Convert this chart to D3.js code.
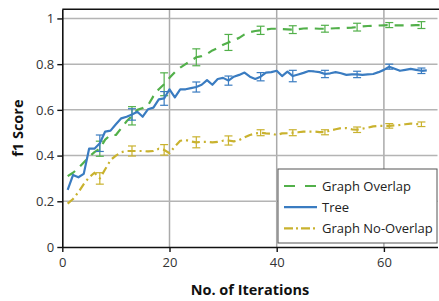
<!DOCTYPE html>
<html><head><meta charset="utf-8">
<script src="https://cdn.jsdelivr.net/npm/d3@7"></script>
<style>body{margin:0;background:#fff}svg{display:block;font-family:"Open Sans",sans-serif}</style>
</head><body><svg id="c" width="439" height="301"></svg>
<script>
const xTicks = [0, 20, 40, 60];
const yTicks = [0, 0.2, 0.4, 0.6, 0.8, 1];
const seriesNames = ["Graph Overlap", "Tree", "Graph No-Overlap"];
const treeX = d3.range(1, 69);
const treeY = [0.25,0.315,0.305,0.32,0.43,0.43,0.454,0.505,0.509,0.537,0.563,0.57,0.58,0.592,0.57,0.603,0.61,0.646,0.65,0.69,0.655,0.69,0.69,0.695,0.70,0.71,0.73,0.71,0.735,0.74,0.728,0.745,0.753,0.763,0.745,0.735,0.745,0.763,0.765,0.771,0.748,0.767,0.748,0.755,0.762,0.77,0.768,0.765,0.757,0.76,0.765,0.76,0.753,0.755,0.755,0.753,0.755,0.757,0.765,0.775,0.789,0.78,0.771,0.775,0.779,0.775,0.771,0.773];
const overlapX = d3.range(1, 68);
const overlapY = [0.31,0.325,0.345,0.37,0.395,0.415,0.43,0.47,0.49,0.49,0.52,0.55,0.574,0.60,0.608,0.62,0.66,0.69,0.712,0.74,0.765,0.785,0.80,0.815,0.83,0.835,0.845,0.86,0.87,0.885,0.895,0.905,0.915,0.93,0.94,0.945,0.948,0.952,0.955,0.955,0.953,0.952,0.951,0.953,0.956,0.957,0.956,0.955,0.955,0.956,0.957,0.958,0.959,0.96,0.962,0.965,0.967,0.968,0.969,0.97,0.971,0.97,0.97,0.97,0.97,0.971,0.971];
const noOverlapX = d3.range(1, 68);
const noOverlapY = [0.19,0.21,0.24,0.275,0.305,0.325,0.30,0.34,0.38,0.40,0.415,0.42,0.42,0.42,0.42,0.418,0.42,0.43,0.425,0.41,0.44,0.465,0.468,0.462,0.458,0.46,0.46,0.458,0.46,0.465,0.466,0.462,0.468,0.48,0.49,0.497,0.50,0.497,0.496,0.49,0.497,0.498,0.5,0.502,0.505,0.505,0.505,0.503,0.502,0.51,0.515,0.52,0.52,0.515,0.513,0.518,0.522,0.528,0.53,0.53,0.53,0.532,0.534,0.537,0.54,0.538,0.537];
const errX = [7,13,19,25,31,37,43,49,55,61,67];
const overlapErr = [0.033,0.04,0.05,0.037,0.035,0.018,0.017,0.015,0.017,0.011,0.015];
const treeErr = [0.036,0.025,0.03,0.022,0.02,0.018,0.025,0.016,0.014,0.011,0.012];
const noOverlapErr = [0.025,0.022,0.023,0.024,0.02,0.013,0.013,0.011,0.012,0.01,0.01];

const svg = d3.select("#c");
const m = {l: 62.3, r: 437.5, t: 9.3, b: 247};
const x = d3.scaleLinear().domain([0, 70]).range([m.l, m.r]);
const y = d3.scaleLinear().domain([0, 1.04]).range([m.b, m.t]);

// grid
const g = svg.append("g");
g.selectAll(".vg").data(xTicks.slice(1)).join("line")
  .attr("x1", d => x(d)).attr("x2", d => x(d)).attr("y1", m.t).attr("y2", m.b)
  .attr("stroke", "#aaa").attr("stroke-width", 1.5);
g.selectAll(".hg").data(yTicks.slice(1)).join("line")
  .attr("x1", m.l).attr("x2", m.r).attr("y1", d => y(d)).attr("y2", d => y(d))
  .attr("stroke", "#b4b4b4").attr("stroke-width", 1.5);

const series = [
  {name: seriesNames[0], xs: overlapX, ys: overlapY, err: overlapErr, color: "#52b04a", dash: "9,7"},
  {name: seriesNames[1], xs: treeX, ys: treeY, err: treeErr, color: "#3a7cc1", dash: null},
  {name: seriesNames[2], xs: noOverlapX, ys: noOverlapY, err: noOverlapErr, color: "#c9b22e", dash: "8,4,2,4"}
];
const line = d3.line().x(d => x(d[0])).y(d => y(d[1]));
const drawOrder = [2, 0, 1];
drawOrder.forEach(i => {
  const s = series[i];
  const pts = s.xs.map((v, k) => [v, s.ys[k]]);
  const p = svg.append("path").datum(pts).attr("d", line)
    .attr("fill", "none").attr("stroke", s.color).attr("stroke-width", 2.2)
    .attr("stroke-linejoin", "round");
  if (s.dash) p.attr("stroke-dasharray", s.dash);
  const eg = svg.append("g").attr("stroke", s.color).attr("stroke-width", 1.2).attr("fill", "none");
  errX.forEach((ex, k) => {
    const mean = s.ys[s.xs.indexOf(ex)];
    const e = s.err[k];
    eg.append("line").attr("x1", x(ex)).attr("x2", x(ex)).attr("y1", y(mean - e)).attr("y2", y(mean + e));
    eg.append("line").attr("x1", x(ex) - 4).attr("x2", x(ex) + 4).attr("y1", y(mean - e)).attr("y2", y(mean - e));
    eg.append("line").attr("x1", x(ex) - 4).attr("x2", x(ex) + 4).attr("y1", y(mean + e)).attr("y2", y(mean + e));
  });
});

// axes
const xa = svg.append("g").attr("transform", `translate(0,${m.b})`)
  .call(d3.axisBottom(x).tickValues(xTicks).tickSize(5).tickPadding(6).tickSizeOuter(0));
const ya = svg.append("g").attr("transform", `translate(${m.l},0)`)
  .call(d3.axisLeft(y).tickValues(yTicks).tickFormat(d3.format("~g")).tickSize(5).tickPadding(3).tickSizeOuter(0));
[xa, ya].forEach(a => {
  a.selectAll("path.domain").attr("stroke", "#111").attr("stroke-width", 1.6);
  a.selectAll(".tick line").attr("stroke", "#111").attr("stroke-width", 1.4);
  a.selectAll("text").attr("font-size", 13).attr("fill", "#333").attr("font-family", "Open Sans");
});
svg.append("line").attr("x1", m.l).attr("x2", 439).attr("y1", m.t).attr("y2", m.t)
  .attr("stroke", "#111").attr("stroke-width", 1.6);

// titles
svg.append("text").attr("x", (m.l + m.r) / 2).attr("y", 295).attr("text-anchor", "middle")
  .attr("font-weight", "bold").attr("font-size", 14.5).attr("fill", "#111").text("No. of Iterations");
svg.append("text").attr("transform", `translate(23,${(m.t + m.b) / 2}) rotate(-90)`)
  .attr("text-anchor", "middle").attr("font-weight", "bold").attr("font-size", 14.5).attr("fill", "#111").text("f1 Score");

// legend
const lg = svg.append("g");
lg.append("rect").attr("x", 278).attr("y", 169).attr("width", 159).attr("height", 74)
  .attr("fill", "#fff").attr("stroke", "#555").attr("stroke-width", 1);
series.forEach((s, i) => {
  const ly = 186 + i * 21.2;
  const l = lg.append("line").attr("x1", 284).attr("x2", 317).attr("y1", ly).attr("y2", ly)
    .attr("stroke", s.color).attr("stroke-width", 2.2);
  if (s.dash) l.attr("stroke-dasharray", i === 0 ? "11,10" : "9,3,2,3");
  lg.append("text").attr("x", 322).attr("y", ly + 4.5).attr("font-size", 13).attr("fill", "#222").text(s.name);
});
</script></body></html>
